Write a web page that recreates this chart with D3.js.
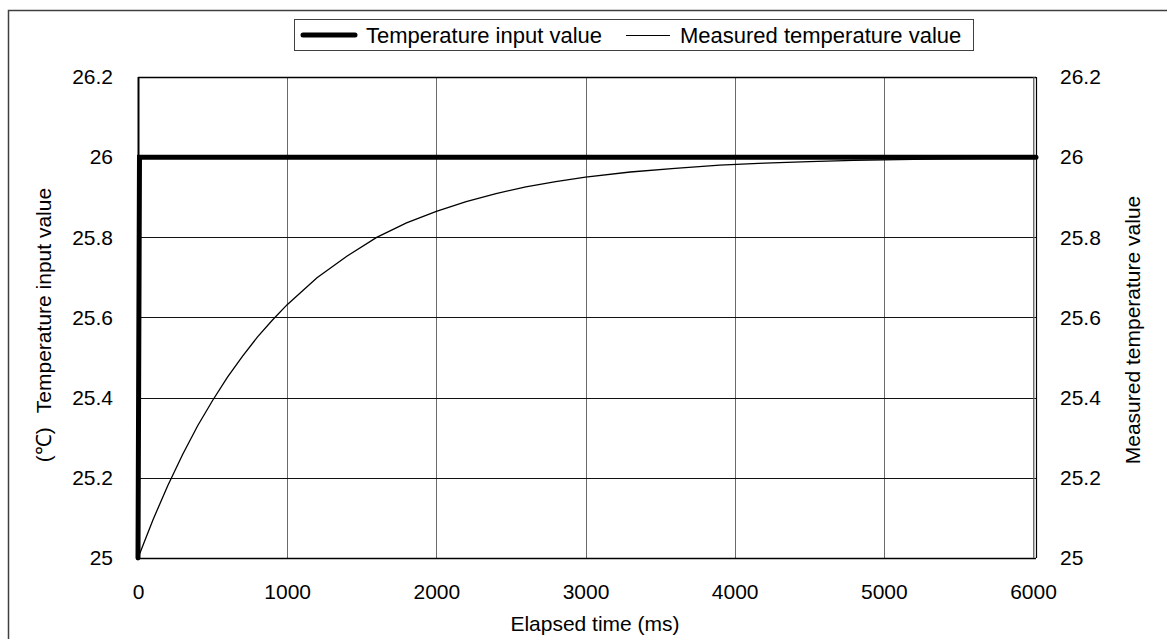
<!DOCTYPE html>
<html>
<head>
<meta charset="utf-8">
<script src="https://cdn.jsdelivr.net/npm/d3@7"></script>
<style>
  html, body { margin: 0; padding: 0; background: #fff; }
  svg { display: block; }
  text { font-family: "Liberation Sans", Arial, sans-serif; fill: #000; }
</style>
</head>
<body>
<svg id="chart" width="1167" height="639"></svg>
<script>
// ---- Data ----
const xTicks = [0, 1000, 2000, 3000, 4000, 5000, 6000];
const yTicks = [25, 25.2, 25.4, 25.6, 25.8, 26, 26.2];
const yTickLabels = ["25", "25.2", "25.4", "25.6", "25.8", "26", "26.2"];

// Temperature input value (step input)
const inputTime  = [0, 10, 6020];
const inputValue = [25, 26, 26];

// Measured temperature value
const measTime  = [0, 100, 200, 300, 400, 500, 600, 700, 800, 900, 1000,
                   1200, 1400, 1600, 1800, 2000, 2200, 2400, 2600, 2800, 3000,
                   3300, 3600, 3900, 4200, 4500, 4800, 5100, 5400, 5700, 6000];
const measValue = [25.000, 25.095, 25.181, 25.259, 25.330, 25.393, 25.451, 25.503, 25.551, 25.593, 25.632,
                   25.699, 25.753, 25.800, 25.836, 25.865, 25.889, 25.909, 25.926, 25.939, 25.950,
                   25.963, 25.972, 25.980, 25.985, 25.989, 25.992, 25.994, 25.996, 25.997, 25.998];

const seriesNames = ["Temperature input value", "Measured temperature value"];
const xTitle = "Elapsed time (ms)";
const yLeftUnit = "(℃)";
const yLeftTitle = "Temperature input value";
const yRightTitle = "Measured temperature value";

// ---- Layout ----
const svg = d3.select("#chart");
const L = 138, R = 1036, T = 77, B = 558;
const FS = 21;

const x = d3.scaleLinear().domain([0, 6020]).range([L, R]);
const y = d3.scaleLinear().domain([25, 26.2]).range([B, T]);

svg.append("rect").attr("width", 1167).attr("height", 639).attr("fill", "#fff");

// outer frame
svg.append("rect")
  .attr("x", 8.5).attr("y", 10.5).attr("width", 1175).attr("height", 650)
  .attr("fill", "none").attr("stroke", "#404040").attr("stroke-width", 1.5);

// grid
const grid = svg.append("g");
grid.selectAll("line.v").data(xTicks.filter(d => d > 0)).join("line")
  .attr("class", "v")
  .attr("x1", d => Math.round(x(d)) + 0.5).attr("x2", d => Math.round(x(d)) + 0.5)
  .attr("y1", T).attr("y2", B)
  .attr("stroke", "#6a6a6a").attr("stroke-width", 1);
grid.selectAll("line.h").data(yTicks.filter(d => d > 25 && d < 26.2)).join("line")
  .attr("class", "h")
  .attr("x1", L).attr("x2", R)
  .attr("y1", d => Math.round(y(d)) + 0.5).attr("y2", d => Math.round(y(d)) + 0.5)
  .attr("stroke", "#111").attr("stroke-width", 1);

// plot frame
svg.append("line").attr("x1", L).attr("x2", R).attr("y1", T + 0.5).attr("y2", T + 0.5)
  .attr("stroke", "#000").attr("stroke-width", 1.5);
svg.append("line").attr("x1", L).attr("x2", R).attr("y1", B + 0.5).attr("y2", B + 0.5)
  .attr("stroke", "#000").attr("stroke-width", 1.5);
svg.append("line").attr("x1", L + 0.5).attr("x2", L + 0.5).attr("y1", T).attr("y2", B)
  .attr("stroke", "#000").attr("stroke-width", 2);
svg.append("line").attr("x1", R - 2).attr("x2", R - 2).attr("y1", T).attr("y2", B)
  .attr("stroke", "#777").attr("stroke-width", 1);
svg.append("line").attr("x1", R + 0.5).attr("x2", R + 0.5).attr("y1", T).attr("y2", B)
  .attr("stroke", "#000").attr("stroke-width", 1.2);

// axes (labels only, via d3 axis generators)
const axB = d3.axisBottom(x).tickValues(xTicks).tickSize(0).tickPadding(0).tickFormat(d3.format("d"));
const gB = svg.append("g").attr("transform", `translate(0,${B + 34})`).call(axB);
const axLeft = d3.axisLeft(y).tickValues(yTicks).tickSize(0).tickPadding(0)
  .tickFormat((d, i) => yTickLabels[i]);
const gL = svg.append("g").attr("transform", `translate(113,0)`).call(axLeft);
const axRight = d3.axisRight(y).tickValues(yTicks).tickSize(0).tickPadding(0)
  .tickFormat((d, i) => yTickLabels[i]);
const gR = svg.append("g").attr("transform", `translate(1060,0)`).call(axRight);
[gB, gL, gR].forEach(g => {
  g.select(".domain").remove();
  g.selectAll("text").attr("font-size", FS).attr("font-family", "Liberation Sans, Arial, sans-serif").attr("fill", "#000");
});
gB.selectAll("text").attr("dy", "0.35em");

// axis titles
svg.append("text").attr("x", (L + R) / 2 + 8).attr("y", 624).attr("dy", "0.35em")
  .attr("text-anchor", "middle").attr("font-size", FS).text(xTitle);
const lt = svg.append("text").attr("transform", `translate(44,325) rotate(-90)`).attr("dy", "0.35em")
  .attr("text-anchor", "middle").attr("font-size", FS);
lt.append("tspan").text(yLeftUnit);
lt.append("tspan").attr("dx", 14).text(yLeftTitle);
svg.append("text").attr("transform", `translate(1133,330) rotate(-90)`).attr("dy", "0.35em")
  .attr("text-anchor", "middle").attr("font-size", FS).text(yRightTitle);

// series
const lineGen = d3.line().x(d => x(d[0])).y(d => y(d[1]));
const measData = measTime.map((t, i) => [t, measValue[i]]);
const inputData = inputTime.map((t, i) => [t, inputValue[i]]);

svg.append("path").datum(measData).attr("d", lineGen)
  .attr("fill", "none").attr("stroke", "#000").attr("stroke-width", 1.3);
svg.append("path").datum(inputData).attr("d", lineGen)
  .attr("fill", "none").attr("stroke", "#000").attr("stroke-width", 5)
  .attr("stroke-linecap", "round").attr("stroke-linejoin", "miter");

// legend
const LFS = 22;
const lg = svg.append("g");
lg.append("rect").attr("x", 294.5).attr("y", 19.5).attr("width", 679).attr("height", 31)
  .attr("fill", "#fff").attr("stroke", "#404040").attr("stroke-width", 1);
lg.append("line").attr("x1", 303).attr("x2", 355).attr("y1", 35).attr("y2", 35)
  .attr("stroke", "#000").attr("stroke-width", 5).attr("stroke-linecap", "round");
lg.append("text").attr("x", 366).attr("y", 35).attr("dy", "0.35em").attr("font-size", LFS).text(seriesNames[0]);
lg.append("line").attr("x1", 626).attr("x2", 670).attr("y1", 35.5).attr("y2", 35.5)
  .attr("stroke", "#000").attr("stroke-width", 1.2);
lg.append("text").attr("x", 680).attr("y", 35).attr("dy", "0.35em").attr("font-size", LFS).text(seriesNames[1]);
</script>
</body>
</html>
